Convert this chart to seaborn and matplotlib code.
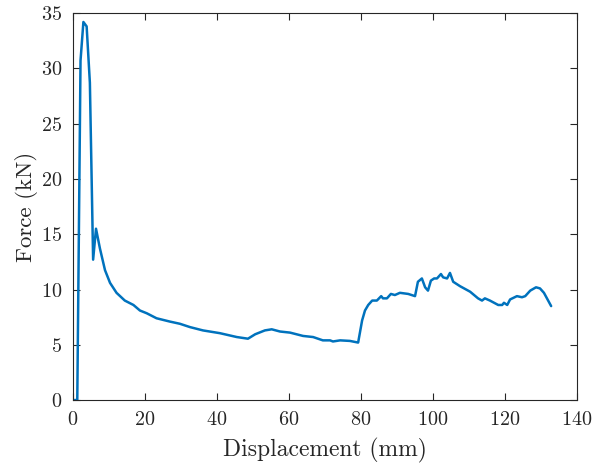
import numpy as np
import pandas as pd
import matplotlib
matplotlib.use("Agg")
import matplotlib.pyplot as plt
import seaborn as sns

displacement = [0.3, 1.2, 2.1, 2.9, 3.8, 4.7, 5.6, 6.4, 7.5, 8.9, 10.3, 12.1, 14.4,
                16.8, 18.6, 20.5, 23.2, 26.9, 29.7, 32.5, 36.1, 40.8, 45.5, 48.6,
                50.6, 53.3, 55.2, 57.5, 60.3, 63.9, 66.7, 69.4, 71.4, 72.2, 74.2,
                76.9, 79.2, 80.3, 81.1, 82.0, 83.1, 84.4, 85.6, 86.1, 87.2, 88.3,
                89.4, 90.8, 93.1, 95.0, 95.8, 96.9, 97.8, 98.6, 99.4, 100.3, 101.1,
                102.2, 102.8, 103.9, 104.7, 105.6, 107.5, 110.3, 112.5, 113.6,
                114.4, 115.8, 118.1, 119.2, 119.7, 120.6, 121.4, 123.3, 124.7,
                125.6, 127.0, 128.6, 129.7, 130.8, 132.8]
force = [0.0, 0.0, 30.7, 34.2, 33.8, 28.7, 12.7, 15.5, 13.7, 11.75, 10.6, 9.7, 9.0,
         8.6, 8.1, 7.85, 7.4, 7.1, 6.9, 6.6, 6.3, 6.05, 5.7, 5.55,
         5.95, 6.3, 6.4, 6.2, 6.1, 5.8, 5.7, 5.4, 5.4, 5.3, 5.4,
         5.35, 5.2, 7.2, 8.1, 8.6, 9.0, 9.0, 9.4, 9.2, 9.2, 9.6,
         9.5, 9.7, 9.6, 9.4, 10.7, 11.0, 10.2, 9.9, 10.8, 11.0, 11.0,
         11.4, 11.1, 11.0, 11.5, 10.7, 10.3, 9.8, 9.2, 9.0,
         9.2, 9.0, 8.6, 8.6, 8.8, 8.6, 9.1, 9.4, 9.3,
         9.4, 9.9, 10.2, 10.1, 9.7, 8.5]
x_ticks = [0, 20, 40, 60, 80, 100, 120, 140]
y_ticks = [0, 5, 10, 15, 20, 25, 30, 35]

df = pd.DataFrame({"Displacement": displacement, "Force": force})

sns.set_style("ticks")
plt.rcParams["font.family"] = ["cmr10", "DejaVu Serif"]
plt.rcParams["axes.formatter.use_mathtext"] = True
plt.rcParams["axes.unicode_minus"] = False

fig = plt.figure(figsize=(5.98, 4.69), dpi=100)
ax = fig.add_axes([0.122, 0.147, 0.843, 0.825])
sns.lineplot(data=df, x="Displacement", y="Force", ax=ax, color="#0072BD",
             linewidth=1.8, sort=False)

ax.set_xlim(0, 140)
ax.set_ylim(0, 35)
ax.set_xticks(x_ticks)
ax.set_yticks(y_ticks)
ax.set_xlabel("Displacement (mm)", fontsize=17, labelpad=6)
ax.set_ylabel("Force (kN)", fontsize=16.5, labelpad=2)
for s in ax.spines.values():
    s.set_visible(True)
    s.set_color("#262626")
    s.set_linewidth(0.8)
ax.tick_params(direction="in", length=5, width=0.8, colors="#262626",
               labelsize=14.5, top=True, right=True, labelcolor="#262626")
ax.tick_params(axis="x", pad=8)
ax.tick_params(axis="y", pad=8)
fig.savefig("out.png", dpi=100)
